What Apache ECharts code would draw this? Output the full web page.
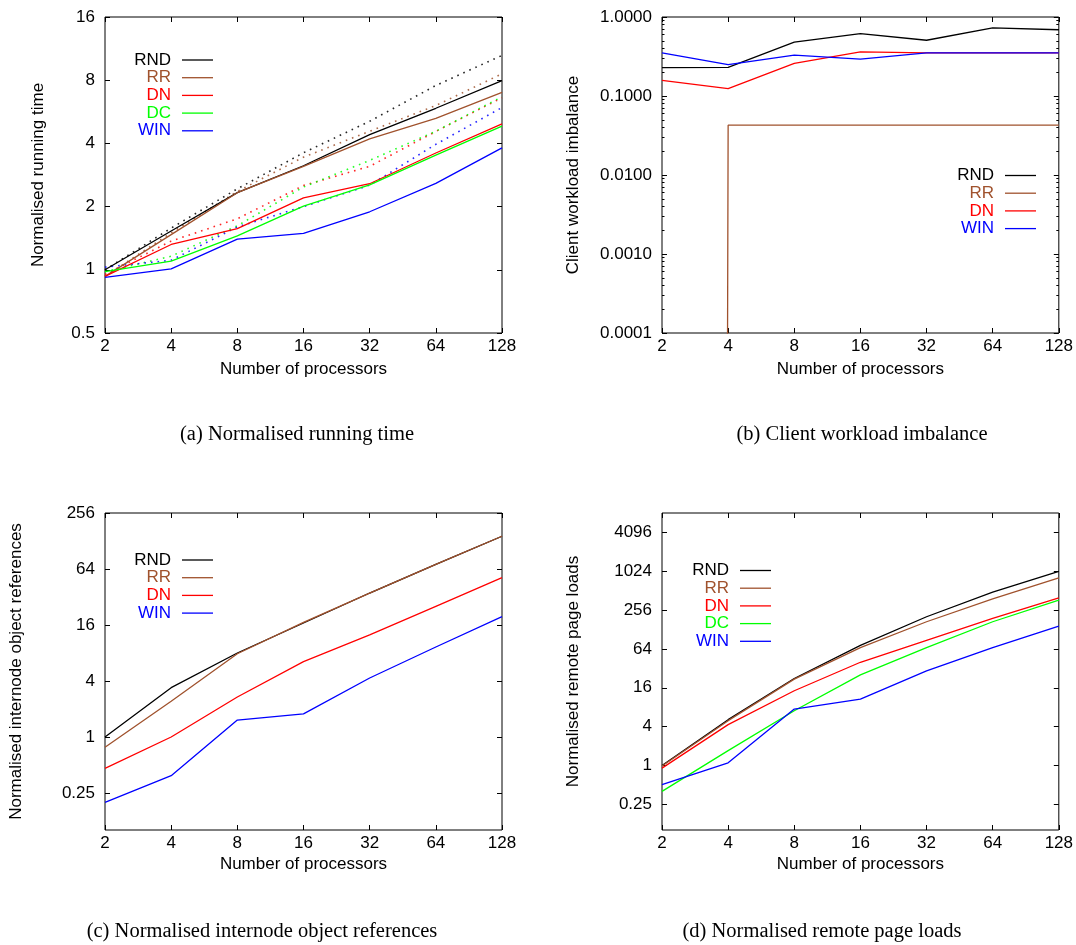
<!DOCTYPE html>
<html>
<head>
<meta charset="utf-8">
<script src="https://cdn.jsdelivr.net/npm/echarts@6/dist/echarts.min.js"></script>
<style>
html, body { margin: 0; padding: 0; background: #fff; }
#chart { width: 1076px; height: 945px; }
</style>
</head>
<body>
<div id="chart"></div>
<script>
let chart = echarts.init(document.getElementById('chart'));

// number of processors (x axis of every panel)
const procs = [2, 4, 8, 16, 32, 64, 128];

// (a) normalised running time, solid lines
const timeRND = [1.0, 1.53, 2.33, 3.13, 4.4, 5.88, 7.97];
const timeRR = [0.93, 1.47, 2.33, 3.11, 4.2, 5.26, 7.0];
const timeDN = [0.93, 1.32, 1.57, 2.2, 2.57, 3.6, 4.96];
const timeDC = [0.98, 1.1, 1.45, 2.01, 2.54, 3.52, 4.83];
const timeWIN = [0.92, 1.01, 1.4, 1.49, 1.89, 2.58, 3.81];
// (a) dotted lines
const timeRNDdot = [1.0, 1.58, 2.43, 3.61, 5.1, 7.55, 10.5];
const timeRRdot = [0.93, 1.5, 2.36, 3.44, 4.57, 6.06, 8.58];
const timeDNdot = [0.95, 1.37, 1.75, 2.52, 3.11, 4.56, 6.6];
const timeDCdot = [0.98, 1.16, 1.62, 2.48, 3.32, 4.57, 6.67];
const timeWINdot = [1.03, 1.11, 1.6, 2.0, 2.53, 3.96, 5.93];

// (b) client workload imbalance (RR is practically zero on 2 processors)
const imbRND = [0.228, 0.23, 0.48, 0.617, 0.508, 0.727, 0.69];
const imbRR = [1e-300, 0.0427, 0.0427, 0.0427, 0.0427, 0.0427, 0.0427];
const imbDN = [0.158, 0.124, 0.258, 0.362, 0.352, 0.352, 0.352];
const imbWIN = [0.352, 0.25, 0.329, 0.293, 0.352, 0.352, 0.352];

// (c) normalised internode object references
const refRND = [1.0, 3.39, 8.0, 16.8, 35.3, 71.8, 144];
const refRR = [0.774, 2.42, 7.85, 17.1, 35.3, 71.8, 144];
const refDN = [0.46, 1.0, 2.69, 6.45, 12.5, 25.4, 51.7];
const refWIN = [0.198, 0.384, 1.52, 1.77, 4.31, 9.28, 19.7];

// (d) normalised remote page loads
const loadRND = [1.0, 5.13, 22.3, 72.9, 202, 485, 1024];
const loadRR = [0.98, 4.95, 21.8, 67.1, 169, 383, 808];
const loadDN = [0.91, 4.3, 14.4, 39.8, 87.1, 190, 397];
const loadDC = [0.397, 1.7, 7.06, 25.4, 67.1, 169, 365];
const loadWIN = [0.503, 1.1, 7.5, 10.7, 29.3, 67.1, 145];

// tick labels
const ticksA = [0.5, 1, 2, 4, 8, 16];
const ticksB = [0.0001, 0.001, 0.01, 0.1, 1];
const ticksC = [0.25, 1, 4, 16, 64, 256];
const ticksD = [0.25, 1, 4, 16, 64, 256, 1024, 4096];

const colors = {RND: '#000000', RR: '#a0522d', DN: '#ff0000', DC: '#00ff00', WIN: '#0000ff'};
const font = 'Liberation Sans';

let minorB = [];
for (let e = -4; e < 0; e++) {
    for (let m = 2; m <= 9; m++) minorB.push(m * Math.pow(10, e));
}

let grids = [
    {left: 105, top: 17, width: 397, height: 316},
    {left: 662, top: 17, width: 398, height: 316},
    {left: 105, top: 513, width: 397, height: 317},
    {left: 662, top: 513, width: 398, height: 317}
].map(g => Object.assign(g, {show: true, borderColor: '#000', borderWidth: 1, backgroundColor: 'transparent'}));

let xAxes = [];
let yAxes = [];
let series = [];

function fmtNum(v) {
    return String(+v.toPrecision(6));
}

function addX(g, nameGap) {
    let base = {
        type: 'log', logBase: 2, min: 2, max: 128, gridIndex: g,
        axisLine: {show: false}, splitLine: {show: false}, minorTick: {show: false}
    };
    xAxes.push(Object.assign({}, base, {
        position: 'bottom',
        name: 'Number of processors', nameLocation: 'middle', nameGap: nameGap,
        nameTextStyle: {fontFamily: font, fontSize: 17, color: '#000'},
        axisTick: {inside: true, length: 5, customValues: procs, lineStyle: {color: '#000'}},
        axisLabel: {customValues: procs, margin: 5, fontFamily: font, fontSize: 17, color: '#000', formatter: fmtNum}
    }));
    xAxes.push(Object.assign({}, base, {
        position: 'top',
        axisTick: {inside: true, length: 5, customValues: procs, lineStyle: {color: '#000'}},
        axisLabel: {show: false}
    }));
    return xAxes.length - 2;
}

function addY(g, scale, ticks, name, nameGap, formatter, minor) {
    let base = Object.assign({
        type: 'log', gridIndex: g,
        axisLine: {show: false}, splitLine: {show: false}, minorTick: {show: false}
    }, scale);
    yAxes.push(Object.assign({}, base, {
        position: 'left',
        name: name, nameLocation: 'middle', nameGap: nameGap,
        nameTextStyle: {fontFamily: font, fontSize: 17, color: '#000'},
        axisTick: {inside: true, length: 5, customValues: ticks, lineStyle: {color: '#000'}},
        axisLabel: {customValues: ticks, margin: 10, fontFamily: font, fontSize: 17, color: '#000', formatter: formatter}
    }));
    let yi = yAxes.length - 1;
    yAxes.push(Object.assign({}, base, {
        position: 'right',
        axisTick: {inside: true, length: 5, customValues: ticks, lineStyle: {color: '#000'}},
        axisLabel: {show: false}
    }));
    if (minor) {
        ['left', 'right'].forEach(pos => {
            yAxes.push(Object.assign({}, base, {
                position: pos,
                axisTick: {inside: true, length: 2.5, customValues: minor, lineStyle: {color: '#000'}},
                axisLabel: {show: false}
            }));
        });
    }
    return yi;
}

function addLine(name, ys, xi, yi, dotted) {
    series.push({
        type: 'line',
        name: dotted ? name + ' (dotted)' : name,
        data: procs.map((p, i) => [p, ys[i]]),
        xAxisIndex: xi, yAxisIndex: yi,
        symbol: 'none',
        silent: true,
        animation: false,
        lineStyle: {color: colors[name], width: dotted ? 1.6 : 1.3, type: dotted ? [1.6, 5] : 'solid', opacity: dotted ? 0.85 : 1},
        itemStyle: {color: colors[name]}
    });
}

function makeLegend(names, right, top) {
    return {
        orient: 'vertical', align: 'right', right: right, top: top, padding: 0,
        icon: 'rect', itemGap: 0.7, itemWidth: 31, itemHeight: 1.3, selectedMode: false,
        textStyle: {fontFamily: font, fontSize: 17, lineHeight: 17, padding: [0, 6, 0, 0]},
        data: names.map(n => ({name: n, textStyle: {color: colors[n]}, itemStyle: {color: colors[n]}}))
    };
}

// (a)
let xa = addX(0, 28);
let ya = addY(0, {logBase: 2, min: 0.5, max: 16}, ticksA, 'Normalised running time', 58, fmtNum);
addLine('RND', timeRNDdot, xa, ya, true);
addLine('RR', timeRRdot, xa, ya, true);
addLine('DN', timeDNdot, xa, ya, true);
addLine('DC', timeDCdot, xa, ya, true);
addLine('WIN', timeWINdot, xa, ya, true);
addLine('RND', timeRND, xa, ya);
addLine('RR', timeRR, xa, ya);
addLine('DN', timeDN, xa, ya);
addLine('DC', timeDC, xa, ya);
addLine('WIN', timeWIN, xa, ya);

// (b)
let xb = addX(1, 28);
let yb = addY(1, {logBase: 10, min: 0.0001, max: 1}, ticksB, 'Client workload imbalance', 80, v => v.toFixed(4), minorB);
addLine('RND', imbRND, xb, yb);
addLine('RR', imbRR, xb, yb);
addLine('DN', imbDN, xb, yb);
addLine('WIN', imbWIN, xb, yb);

// (c)
let xc = addX(2, 26);
let yc = addY(2, {logBase: 2, min: 0.1, max: 256}, ticksC, 'Normalised internode object references', 80, fmtNum);
addLine('RND', refRND, xc, yc);
addLine('RR', refRR, xc, yc);
addLine('DN', refDN, xc, yc);
addLine('WIN', refWIN, xc, yc);

// (d)
let xd = addX(3, 26);
let yd = addY(3, {logBase: 2, min: 0.1, max: 8192}, ticksD, 'Normalised remote page loads', 80, fmtNum);
addLine('RND', loadRND, xd, yd);
addLine('RR', loadRR, xd, yd);
addLine('DN', loadDN, xd, yd);
addLine('DC', loadDC, xd, yd);
addLine('WIN', loadWIN, xd, yd);

let captionStyle = {fontFamily: 'Liberation Serif', fontSize: 20.5, fontWeight: 'normal', color: '#000'};

let options = {
    backgroundColor: '#fff',
    animation: false,
    title: [
        {text: '(a) Normalised running time', left: 297, top: 424, textAlign: 'center', padding: 0, textStyle: captionStyle},
        {text: '(b) Client workload imbalance', left: 862, top: 424, textAlign: 'center', padding: 0, textStyle: captionStyle},
        {text: '(c) Normalised internode object references', left: 262, top: 921, textAlign: 'center', padding: 0, textStyle: captionStyle},
        {text: '(d) Normalised remote page loads', left: 822, top: 921, textAlign: 'center', padding: 0, textStyle: captionStyle}
    ],
    legend: [
        makeLegend(['RND', 'RR', 'DN', 'DC', 'WIN'], 863, 51.5),
        makeLegend(['RND', 'RR', 'DN', 'WIN'], 40, 167),
        makeLegend(['RND', 'RR', 'DN', 'WIN'], 863, 551.5),
        makeLegend(['RND', 'RR', 'DN', 'DC', 'WIN'], 305, 562)
    ],
    grid: grids,
    xAxis: xAxes,
    yAxis: yAxes,
    series: series
};
chart.setOption(options);
</script>
</body>
</html>
